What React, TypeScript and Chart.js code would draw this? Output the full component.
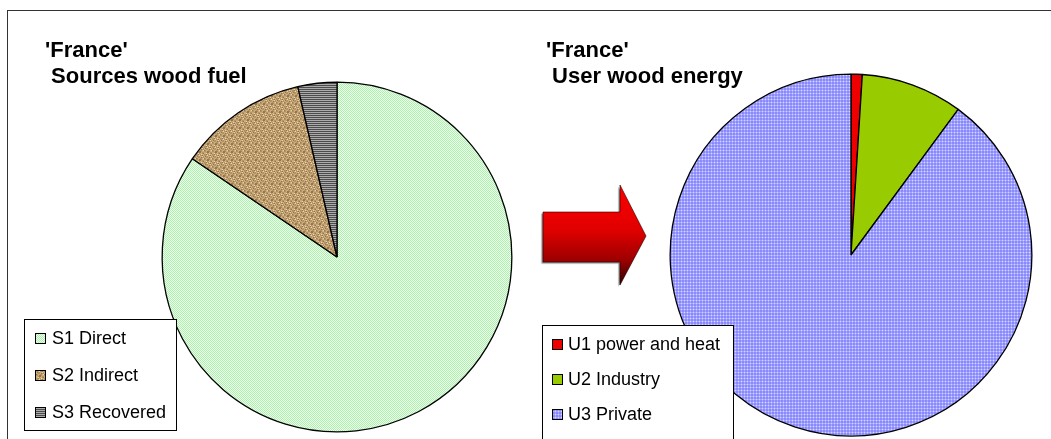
import React, { useEffect, useRef } from 'react';
import { Chart, registerables } from 'chart.js';

Chart.register(...registerables);

const sourceLabels = ['S1 Direct', 'S2 Indirect', 'S3 Recovered'];
const sourceValues = [84.5, 11.9, 3.6];
const userLabels = ['U1 power and heat', 'U2 Industry', 'U3 Private'];
const userValues = [1.0, 9.1, 89.9];
const titleLeft = ["'France'", ' Sources wood fuel'];
const titleRight = ["'France'", ' User wood energy'];

const FONT = '"Liberation Sans", Arial, Helvetica, sans-serif';

function makePattern(w: number, h: number, fn: (x: number, y: number) => string): CanvasPattern | string {
  const c = document.createElement('canvas');
  c.width = w;
  c.height = h;
  const ctx = c.getContext('2d');
  if (!ctx) return '#cccccc';
  for (let y = 0; y < h; y++) {
    for (let x = 0; x < w; x++) {
      ctx.fillStyle = fn(x, y);
      ctx.fillRect(x, y, 1, 1);
    }
  }
  const p = ctx.createPattern(c, 'repeat');
  return p || '#cccccc';
}

function greenDots() {
  return makePattern(2, 2, (x, y) => ((x + y) % 2 === 0 ? '#aef0ae' : '#eeffee'));
}
function burlap() {
  return makePattern(8, 8, (x, y) => {
    const weave = ((x >> 1) + (y >> 1)) % 2 === 0;
    const spot = (x * 3 + y * 5) % 7 === 0;
    const hi = (x * 5 + y * 3) % 11 === 0;
    if (spot) return '#94764a';
    if (hi) return '#e8d6b0';
    return weave ? '#cbac7c' : '#b39366';
  });
}
function grayStripes() {
  return makePattern(2, 2, (_x, y) => (y === 0 ? '#ababab' : '#4c4c4c'));
}
function blueChecks() {
  return makePattern(3, 3, (x, y) => {
    if (x === 0 && y === 0) return '#d8d8ff';
    if (x === 0 || y === 0) return '#a6a6ff';
    return '#8a8aff';
  });
}

type Decor = {
  title: string[];
  titleX: number;
  box: [number, number, number, number];
  swX: number;
  sw: number;
  textX: number;
  rows: number[];
  arrow?: boolean;
};

const decorPlugin = {
  id: 'decor',
  afterDraw(chart: any, _args: any, opts: Decor) {
    const ctx: CanvasRenderingContext2D = chart.ctx;
    ctx.save();
    // title
    ctx.fillStyle = '#000';
    ctx.font = `bold 22px ${FONT}`;
    ctx.textBaseline = 'alphabetic';
    ctx.textAlign = 'left';
    ctx.fillText(opts.title[0], opts.titleX, 57);
    ctx.fillText(opts.title[1], opts.titleX, 83);

    // arrow
    if (opts.arrow) {
      const pts: [number, number][] = [
        [18, 212], [95, 212], [95, 185], [121, 236], [95, 285], [95, 262], [18, 262],
      ];
      ctx.save();
      ctx.beginPath();
      pts.forEach((p, i) => (i === 0 ? ctx.moveTo(p[0], p[1]) : ctx.lineTo(p[0], p[1])));
      ctx.closePath();
      const g = ctx.createLinearGradient(0, 185, 0, 286);
      g.addColorStop(0, '#ff0000');
      g.addColorStop(0.45, '#e00000');
      g.addColorStop(0.75, '#9a0000');
      g.addColorStop(1, '#2a0000');
      ctx.shadowColor = 'rgba(0,0,0,0.5)';
      ctx.shadowOffsetX = -1.5;
      ctx.shadowOffsetY = 1.5;
      ctx.shadowBlur = 1;
      ctx.fillStyle = g;
      ctx.fill();
      ctx.shadowColor = 'transparent';
      ctx.lineWidth = 1;
      ctx.strokeStyle = 'rgba(40,0,0,0.6)';
      ctx.stroke();
      ctx.restore();
    }

    // legend
    const [bx, by, bw, bh] = opts.box;
    ctx.fillStyle = '#ffffff';
    ctx.fillRect(bx, by, bw, bh);
    ctx.strokeStyle = '#000';
    ctx.lineWidth = 1;
    ctx.strokeRect(bx + 0.5, by + 0.5, bw, bh);
    const ds = chart.data.datasets[0];
    const labels: string[] = chart.data.labels;
    ctx.font = `18px ${FONT}`;
    ctx.textBaseline = 'middle';
    labels.forEach((lab, i) => {
      const cy = opts.rows[i];
      const sx = opts.swX;
      const sy = Math.round(cy - opts.sw / 2);
      ctx.fillStyle = ds.backgroundColor[i];
      ctx.fillRect(sx, sy, opts.sw, opts.sw);
      ctx.strokeStyle = '#000';
      ctx.strokeRect(sx + 0.5, sy + 0.5, opts.sw - 1, opts.sw - 1);
      ctx.fillStyle = '#000';
      ctx.fillText(lab, opts.textX, cy + 1);
    });
    ctx.restore();
  },
};

function PieCanvas(props: {
  left: number;
  width: number;
  labels: string[];
  values: number[];
  colors: () => (CanvasPattern | string)[];
  padding: { left: number; right: number; top: number; bottom: number };
  decor: Decor;
}) {
  const ref = useRef<HTMLCanvasElement>(null);
  useEffect(() => {
    if (!ref.current) return;
    const chart = new Chart(ref.current, {
      type: 'pie',
      data: {
        labels: props.labels,
        datasets: [
          {
            data: props.values,
            backgroundColor: props.colors() as any,
            borderColor: '#000000',
            borderWidth: 1.3,
          },
        ],
      },
      options: {
        responsive: false,
        animation: false,
        layout: { padding: props.padding },
        plugins: {
          legend: { display: false },
          title: { display: false },
          tooltip: { enabled: false },
          decor: props.decor,
        } as any,
      },
      plugins: [decorPlugin],
    });
    return () => chart.destroy();
  }, []);
  return (
    <canvas
      ref={ref}
      width={props.width}
      height={439}
      style={{ position: 'absolute', left: props.left, top: 0, width: props.width, height: 439 }}
    />
  );
}

export default function App() {
  return (
    <div
      style={{
        position: 'fixed',
        left: 0,
        top: 0,
        width: 1051,
        height: 439,
        overflow: 'hidden',
        background: '#ffffff',
      }}
    >
      <div
        style={{
          position: 'absolute',
          left: 7,
          top: 10,
          width: 2000,
          height: 2000,
          borderTop: '1px solid #333',
          borderLeft: '1px solid #333',
        }}
      />
      <PieCanvas
        left={0}
        width={525}
        labels={sourceLabels}
        values={sourceValues}
        colors={() => [greenDots(), burlap(), grayStripes()]}
        padding={{ left: 161.5, right: 12.5, top: 81.5, bottom: 6.5 }}
        decor={{
          title: titleLeft,
          titleX: 45,
          box: [24, 319, 152, 111],
          swX: 35,
          sw: 11,
          textX: 52,
          rows: [338, 375, 412],
        }}
      />
      <PieCanvas
        left={525}
        width={526}
        labels={userLabels}
        values={userValues}
        colors={() => ['#ee0000', '#99cc00', blueChecks()]}
        padding={{ left: 144.5, right: 18.5, top: 73.5, bottom: 2.5 }}
        decor={{
          title: titleRight,
          titleX: 21,
          box: [17, 325, 191, 130],
          swX: 27,
          sw: 11,
          textX: 43,
          rows: [344, 379, 414],
          arrow: true,
        }}
      />
    </div>
  );
}
